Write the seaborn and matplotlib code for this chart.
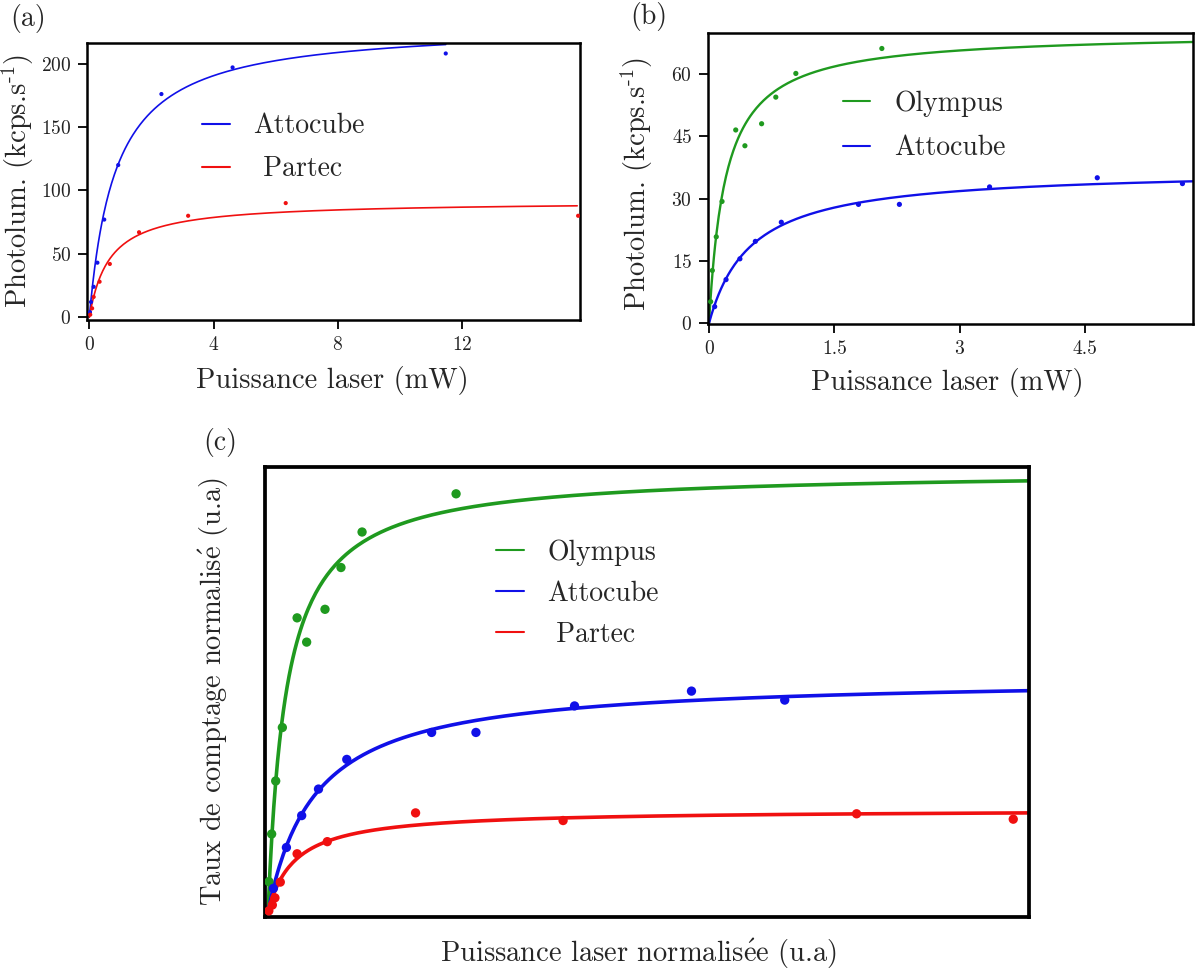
import numpy as np
import pandas as pd
import matplotlib.pyplot as plt
import seaborn as sns

sns.set_theme(style='ticks')
plt.rcParams['font.family'] = ['cmr10', 'DejaVu Serif']
plt.rcParams['mathtext.fontset'] = 'cm'
plt.rcParams['axes.unicode_minus'] = False
plt.rcParams['axes.formatter.use_mathtext'] = True

BLUE = '#1010e8'
RED = '#f01010'
GREEN = '#1f9a1f'

# (a) photoluminescence vs laser power, Attocube / Partec
A_ATTO_P = [0.02, 0.055, 0.14, 0.26, 0.48, 0.93, 2.32, 4.61, 11.47]
A_ATTO_I = [4, 12, 24, 43, 77, 120, 176, 197, 208]
A_PART_P = [0.03, 0.09, 0.14, 0.33, 0.66, 1.6, 3.18, 6.32, 15.73]
A_PART_I = [2, 7, 16, 28, 42, 67, 80, 90, 80]
# saturation fit I = Imax * P / (P + Psat)
A_IMAX = [231, 91.5]
A_PSAT = [0.85, 0.65]
A_PEND = [11.47, 15.7]

# (b) Olympus / Attocube
B_OLY_P = [0.02, 0.04, 0.087, 0.156, 0.32, 0.43, 0.63, 0.80, 1.04, 2.07]
B_OLY_I = [5.2, 12.7, 20.8, 29.3, 46.5, 42.7, 48.0, 54.4, 60.1, 66.1]
B_ATTO_P = [0.068, 0.204, 0.37, 0.555, 0.866, 1.79, 2.28, 3.36, 4.65, 5.67]
B_ATTO_I = [4.0, 10.5, 15.5, 19.7, 24.3, 28.6, 28.6, 32.8, 35.0, 33.6]
B_IMAX = [70, 37.1]
B_PSAT = [0.2, 0.5]
B_PEND = [5.8, 5.8]

# (c) normalised comparison
C_OLY_P = [0.0012, 0.0047, 0.010, 0.0187, 0.038, 0.0505, 0.0745, 0.0954, 0.123, 0.246]
C_OLY_I = [0.067, 0.173, 0.291, 0.410, 0.654, 0.600, 0.673, 0.766, 0.845, 0.930]
C_ATTO_P = [0.007, 0.024, 0.044, 0.066, 0.103, 0.214, 0.272, 0.401, 0.554, 0.676]
C_ATTO_I = [0.052, 0.143, 0.214, 0.273, 0.339, 0.399, 0.399, 0.458, 0.491, 0.471]
C_PART_P = [0.001, 0.0056, 0.009, 0.016, 0.038, 0.0775, 0.193, 0.386, 0.770, 0.975]
C_PART_I = [0.002, 0.015, 0.031, 0.066, 0.129, 0.156, 0.220, 0.203, 0.218, 0.206]
C_IMAX = [0.982, 0.5225, 0.2277]
C_PSAT = [0.024, 0.0618, 0.035]
C_PEND = [0.996, 0.996, 0.996]

W, H = 1196, 972
LABEL_FS = 20.5
YLAB = r'Photolum. (kcps.s$^{\text{-1}}$)'


def box(left, top, right, bottom):
    return [left / W, 1 - bottom / H, (right - left) / W, (bottom - top) / H]


def fit_frame(names, imax, psat, pend):
    rows = []
    for name, im, ps, pe in zip(names, imax, psat, pend):
        p = np.linspace(0, pe, 400)
        rows.append(pd.DataFrame({'P': p, 'I': im * p / (p + ps), 'Serie': name}))
    return pd.concat(rows, ignore_index=True)


def point_frame(series):
    rows = [pd.DataFrame({'P': p, 'I': i, 'Serie': name}) for name, p, i in series]
    return pd.concat(rows, ignore_index=True)


def panel(ax, pts, fits, palette, lw, s, labels, leg_anchor, leg_space, spine_w):
    sns.lineplot(data=fits, x='P', y='I', hue='Serie', palette=palette, linewidth=lw,
                 ax=ax, legend=False, sort=False)
    sns.scatterplot(data=pts, x='P', y='I', hue='Serie', palette=palette, s=s,
                    edgecolor='none', ax=ax, legend=False, zorder=3)
    handles = [plt.Line2D([], [], color=palette[k], lw=1.5) for k in palette]
    ax.legend(handles, labels, loc='center left', bbox_to_anchor=leg_anchor, frameon=False,
              fontsize=20, handlelength=1.0, handletextpad=0.85, borderpad=0,
              borderaxespad=0, labelspacing=leg_space)
    for sp in ax.spines.values():
        sp.set_linewidth(spine_w)
        sp.set_color('black')
    ax.tick_params(axis='both', which='major', length=6.5, width=1.3, labelsize=14,
                   colors='black', labelcolor='#222222', pad=5, top=False, right=False)


fig = plt.figure(figsize=(W / 100, H / 100), dpi=100)

# ---- (a)
ax_a = fig.add_axes(box(87.3, 42.7, 580.3, 320))
pts_a = point_frame([('Attocube', A_ATTO_P, A_ATTO_I), ('Partec', A_PART_P, A_PART_I)])
fits_a = fit_frame(['Attocube', 'Partec'], A_IMAX, A_PSAT, A_PEND)
panel(ax_a, pts_a, fits_a, {'Attocube': BLUE, 'Partec': RED}, 1.2, 9,
      ['Attocube', ' Partec'], (0.233, 0.621), 0.6, 1.8)
ax_a.set_xlim(-0.065, 15.8)
ax_a.set_ylim(-2.2, 216.5)
ax_a.set_xticks([0, 4, 8, 12])
ax_a.set_yticks([0, 50, 100, 150, 200])
ax_a.set_xlabel('Puissance laser (mW)', fontsize=LABEL_FS)
ax_a.set_ylabel(YLAB, fontsize=LABEL_FS)
ax_a.xaxis.set_label_coords(0.496, -0.165)
ax_a.yaxis.set_label_coords(-0.105, 0.5)

# ---- (b)
ax_b = fig.add_axes(box(708, 32.7, 1193.3, 324.3))
pts_b = point_frame([('Olympus', B_OLY_P, B_OLY_I), ('Attocube', B_ATTO_P, B_ATTO_I)])
fits_b = fit_frame(['Olympus', 'Attocube'], B_IMAX, B_PSAT, B_PEND)
panel(ax_b, pts_b, fits_b, {'Olympus': GREEN, 'Attocube': BLUE}, 1.7, 14,
      ['Olympus', 'Attocube'], (0.2776, 0.681), 0.66, 1.8)
ax_b.set_xlim(-0.012, 5.80)
ax_b.set_ylim(-0.25, 69.9)
ax_b.set_xticks([0, 1.5, 3, 4.5])
ax_b.set_xticklabels(['0', '1.5', '3', '4.5'])
ax_b.set_yticks([0, 15, 30, 45, 60])
ax_b.set_xlabel('Puissance laser (mW)', fontsize=LABEL_FS)
ax_b.set_ylabel(YLAB, fontsize=LABEL_FS)
ax_b.xaxis.set_label_coords(0.494, -0.15)
ax_b.yaxis.set_label_coords(-0.11, 0.481)

# ---- (c)
ax_c = fig.add_axes(box(265, 467.3, 1029.3, 916.7))
pts_c = point_frame([('Olympus', C_OLY_P, C_OLY_I), ('Attocube', C_ATTO_P, C_ATTO_I),
                     ('Partec', C_PART_P, C_PART_I)])
fits_c = fit_frame(['Olympus', 'Attocube', 'Partec'], C_IMAX, C_PSAT, C_PEND)
panel(ax_c, pts_c, fits_c, {'Olympus': GREEN, 'Attocube': BLUE, 'Partec': RED}, 2.6, 45,
      ['Olympus', 'Attocube', ' Partec'], (0.302, 0.719), 0.52, 2.7)
ax_c.set_xlim(-0.004, 0.996)
ax_c.set_ylim(-0.011, 0.989)
ax_c.set_xticks([])
ax_c.set_yticks([])
ax_c.set_xlabel(r'Puissance laser normalis$\mathrm{\acute{e}}$e (u.a)', fontsize=LABEL_FS)
ax_c.set_ylabel(r'Taux de comptage normalis$\mathrm{\acute{e}}$ (u.a)', fontsize=LABEL_FS)
ax_c.xaxis.set_label_coords(0.489, -0.045)
ax_c.yaxis.set_label_coords(-0.045, 0.5)

fig.text(10 / W, 1 - 4 / H, '(a)', fontsize=20, ha='left', va='top')
fig.text(630 / W, 1 - 2 / H, '(b)', fontsize=20, ha='left', va='top')
fig.text(203 / W, 1 - 428 / H, '(c)', fontsize=20, ha='left', va='top')

fig.savefig('out.png', dpi=100)
